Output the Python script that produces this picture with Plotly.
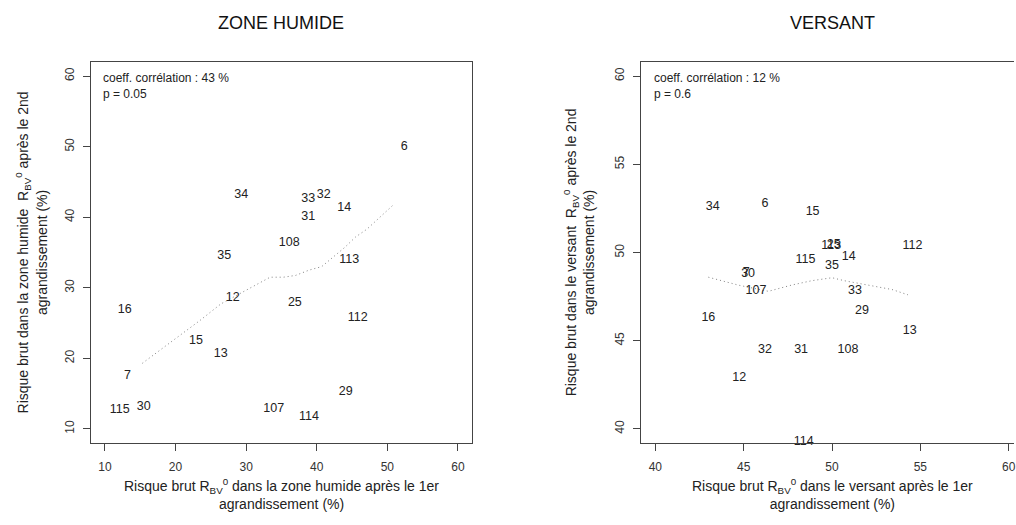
import plotly.graph_objects as go

# Zone humide: risk after 1st (x) vs 2nd (y) enlargement, labelled by site id
zh_labels = ["6", "34", "33", "32", "14", "31", "108", "35", "113", "12", "16",
             "25", "112", "15", "13", "7", "29", "115", "30", "107", "114"]
zh_x = [52.4, 29.3, 38.8, 41.0, 43.9, 38.8, 36.1, 26.9, 44.6, 28.1, 12.8,
        36.9, 45.8, 22.9, 26.4, 13.2, 44.1, 12.1, 15.5, 33.9, 38.9]
zh_y = [50.0, 43.1, 42.6, 43.1, 41.3, 40.1, 36.4, 34.5, 34.0, 28.6, 26.8,
        27.8, 25.8, 22.5, 20.6, 17.5, 15.2, 12.7, 13.1, 12.8, 11.7]

# Smoothed trend (zone humide)
zh_lo_x = [15.3, 18.3, 23.5, 26.4, 29.9, 31.8, 33.4, 35.3, 37.0, 38.9, 40.7,
           44.0, 45.5, 47.1, 49.0, 50.9]
zh_lo_y = [19.3, 21.5, 25.4, 27.7, 29.6, 30.6, 31.5, 31.5, 31.75, 32.5, 33.0,
           35.75, 37.2, 38.3, 40.0, 41.8]

# Versant
v_labels = ["34", "6", "15", "113", "25", "112", "115", "14", "35", "30", "7",
            "107", "33", "29", "16", "13", "32", "31", "108", "12", "114"]
v_x = [43.25, 46.2, 48.9, 49.95, 50.1, 54.55, 48.5, 50.95, 50.0, 45.25, 45.15,
       45.7, 51.3, 51.7, 43.0, 54.4, 46.2, 48.25, 50.9, 44.75, 48.4]
v_y = [52.6, 52.75, 52.3, 50.4, 50.45, 50.4, 49.6, 49.75, 49.25, 48.8, 48.85,
       47.8, 47.85, 46.7, 46.3, 45.55, 44.5, 44.5, 44.5, 42.9, 39.25]

# Smoothed trend (versant)
v_lo_x = [43.0, 43.8, 44.7, 46.4, 47.7, 48.85, 50.0, 50.7, 52.2, 53.4, 54.3]
v_lo_y = [48.6, 48.4, 48.15, 47.8, 48.15, 48.4, 48.57, 48.4, 48.1, 47.9, 47.6]

zh_ticks = [10, 20, 30, 40, 50, 60]
v_ticks = [40, 45, 50, 55, 60]

FONT = "Liberation Sans, Arial, sans-serif"
W, H = 1016, 525

fig = go.Figure()

fig.add_trace(go.Scatter(x=zh_lo_x, y=zh_lo_y, mode="lines", xaxis="x", yaxis="y",
                         line=dict(color="#808080", width=1, dash="1px,3px"),
                         hoverinfo="skip", showlegend=False))
fig.add_trace(go.Scatter(x=zh_x, y=zh_y, text=zh_labels, mode="text", xaxis="x", yaxis="y",
                         textposition="middle center", cliponaxis=False,
                         textfont=dict(family=FONT, size=12.5, color="#222"),
                         showlegend=False))
fig.add_trace(go.Scatter(x=v_lo_x, y=v_lo_y, mode="lines", xaxis="x2", yaxis="y2",
                         line=dict(color="#808080", width=1, dash="1px,3px"),
                         hoverinfo="skip", showlegend=False))
fig.add_trace(go.Scatter(x=v_x, y=v_y, text=v_labels, mode="text", xaxis="x2", yaxis="y2",
                         textposition="middle center", cliponaxis=False,
                         textfont=dict(family=FONT, size=12.5, color="#222"),
                         showlegend=False))

y_dom = [1 - 443 / H, 1 - 62 / H]
axis_common = dict(showgrid=False, zeroline=False, showline=True, linecolor="#444",
                   linewidth=1, ticks="outside", ticklen=7, tickcolor="#444",
                   ticklabeloverflow="allow",
                   tickfont=dict(family=FONT, size=12, color="#333"))

v_xmax = 39.2 + (W - 642.5) / 17.7

fig.update_layout(
    width=W, height=H, margin=dict(l=0, r=0, t=0, b=0),
    paper_bgcolor="white", plot_bgcolor="white",
    xaxis=dict(domain=[91 / W, 473 / W], range=[8, 62], tickvals=zh_ticks,
               mirror=True, anchor="y", ticklabelstandoff=6, **axis_common),
    yaxis=dict(domain=y_dom, range=[8, 62], tickvals=zh_ticks, tickangle=-90,
               mirror=True, anchor="x", ticklabelstandoff=4, **axis_common),
    xaxis2=dict(domain=[642.5 / W, 1.0], range=[39.2, v_xmax], tickvals=v_ticks,
                mirror=True, anchor="y2", ticklabelstandoff=6, **axis_common),
    yaxis2=dict(domain=y_dom, range=[39.2, 60.8], tickvals=v_ticks, tickangle=-90,
                mirror=False, anchor="x2", ticklabelstandoff=4, **axis_common),
)

title_font = dict(family=FONT, size=18, color="#111")
label_font = dict(family=FONT, size=14, color="#222")
note_font = dict(family=FONT, size=12, color="#222")
RBV = "R<sub>BV</sub><sup>0</sup>"

annotations = [
    # panel titles
    dict(text="ZONE HUMIDE", xref="x domain", x=0.5, yref="paper", y=1 - 23 / H,
         showarrow=False, font=title_font, xanchor="center", yanchor="middle"),
    dict(text="VERSANT", xref="x2", x=50, yref="paper", y=1 - 23 / H,
         showarrow=False, font=title_font, xanchor="center", yanchor="middle"),
    # correlation notes
    dict(text="coeff. corrélation : 43 %<br>p = 0.05", xref="paper", x=101 / W,
         yref="paper", y=1 - 69 / H, showarrow=False, font=note_font, align="left",
         xanchor="left", yanchor="top"),
    dict(text="coeff. corrélation : 12 %<br>p = 0.6", xref="paper", x=653 / W,
         yref="paper", y=1 - 69 / H, showarrow=False, font=note_font, align="left",
         xanchor="left", yanchor="top"),
    # axis titles
    dict(text=f"Risque brut {RBV} dans la zone humide après le 1er<br>agrandissement (%)",
         xref="x domain", x=0.5, yref="paper", y=1 - 494 / H, showarrow=False,
         font=label_font, xanchor="center", yanchor="middle"),
    dict(text=f"Risque brut {RBV} dans le versant après le 1er<br>agrandissement (%)",
         xref="x2", x=50, yref="paper", y=1 - 494 / H, showarrow=False,
         font=label_font, xanchor="center", yanchor="middle"),
    dict(text=f"Risque brut dans la zone humide  {RBV} après le 2nd<br>agrandissement (%)",
         xref="paper", x=31 / W, yref="y domain", y=0.5, textangle=-90, showarrow=False,
         font=label_font, xanchor="center", yanchor="middle"),
    dict(text=f"Risque brut dans le versant  {RBV} après le 2nd<br>agrandissement (%)",
         xref="paper", x=580 / W, yref="y2 domain", y=0.5, textangle=-90, showarrow=False,
         font=label_font, xanchor="center", yanchor="middle"),
]
fig.update_layout(annotations=annotations)

fig.write_html("out.html")
